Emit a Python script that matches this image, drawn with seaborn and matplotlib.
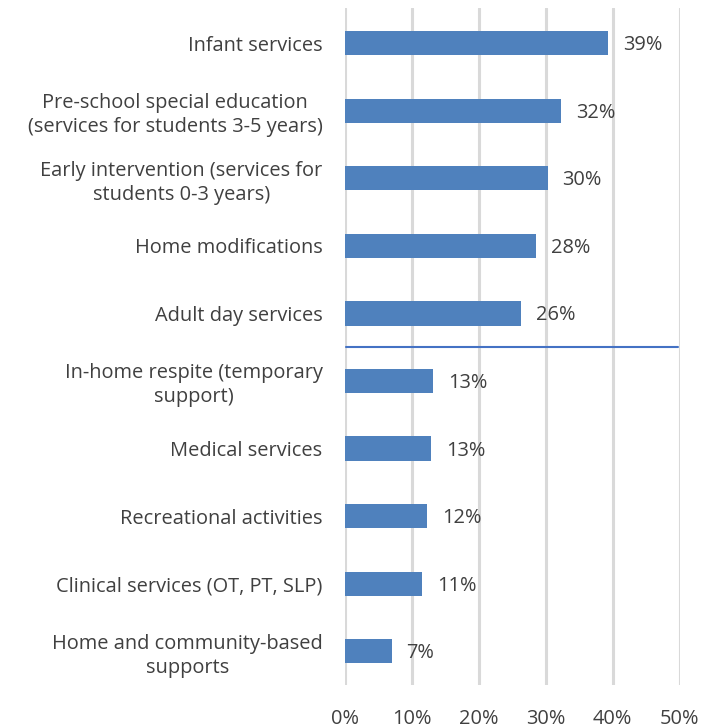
import matplotlib
matplotlib.use("Agg")
import matplotlib.pyplot as plt
import seaborn as sns
import pandas as pd

# data
categories = [
    "Infant services",
    "Pre-school special education\n(services for students 3-5 years)",
    "Early intervention (services for\nstudents 0-3 years)",
    "Home modifications",
    "Adult day services",
    "In-home respite (temporary\nsupport)",
    "Medical services",
    "Recreational activities",
    "Clinical services (OT, PT, SLP)",
    "Home and community-based\nsupports",
]
values = [39.3, 32.3, 30.3, 28.6, 26.3, 13.2, 12.9, 12.3, 11.6, 7.0]
value_labels = ["39%", "32%", "30%", "28%", "26%", "13%", "13%", "12%", "11%", "7%"]
x_ticks = [0, 10, 20, 30, 40, 50]

df = pd.DataFrame({"category": categories, "value": values})

sns.set_style("white")
plt.rcParams["font.family"] = ["Open Sans", "DejaVu Sans"]

text_color = "#404040"
bar_color = "#4F81BD"
fs = 14.4

fig = plt.figure(figsize=(7.08, 7.28), dpi=100)
ax = fig.add_axes([0.487, 0.059, 0.473, 0.930])

sns.barplot(data=df, y="category", x="value", orient="h", color=bar_color,
            width=0.36, saturation=1, linewidth=0, ax=ax, zorder=3)

ax.set_xlim(0, 50)
ax.set_ylim(len(categories) - 0.5, -0.52)
ax.set_xticks(x_ticks)
ax.set_xticklabels([f"{t}%" for t in x_ticks])
ax.grid(axis="x", color="#D9D9D9", linewidth=2.2, zorder=0)
ax.grid(axis="y", visible=False)
for s in ax.spines.values():
    s.set_visible(False)

ax.set_xlabel("")
ax.set_ylabel("")
ax.tick_params(axis="x", length=0, pad=17, labelsize=fs, labelcolor=text_color)
ax.tick_params(axis="y", length=0, pad=16, labelsize=fs, labelcolor=text_color)
for lbl in ax.get_yticklabels():
    lbl.set_multialignment("center")
    lbl.set_linespacing(1.25)

# value labels
for i, (v, t) in enumerate(zip(values, value_labels)):
    ax.text(v + 2.2, i + 0.03, t, va="center", ha="left", fontsize=fs, color=text_color)

# divider line between the two groups
ax.axhline(4.5, xmin=0.005, xmax=0.995, color="#4472C4", linewidth=1.5, zorder=4)

fig.savefig("out.png", dpi=100)
